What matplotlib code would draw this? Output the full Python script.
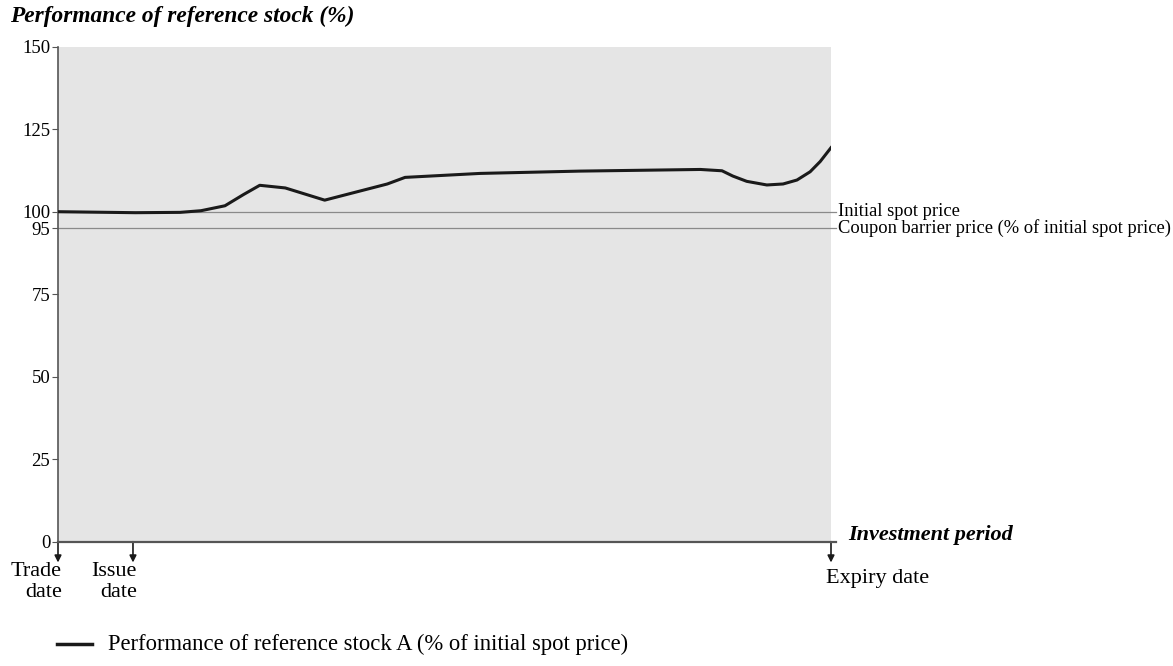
import matplotlib.pyplot as plt

# investment period on a 0-100 scale, performance in % of initial spot
period = [0, 10, 15.8, 18.5, 21.6, 24.0, 26.1, 29.4, 34.5, 42.6, 44.9, 54.6,
          67.5, 83.1, 85.9, 87.3, 89.1, 91.7, 93.8, 95.6, 97.3, 98.6, 100]
perf = [100, 99.7, 99.8, 100.3, 101.8, 105.2, 108.0, 107.2, 103.5, 108.4,
        110.4, 111.6, 112.3, 112.8, 112.4, 110.8, 109.2, 108.1, 108.4, 109.6,
        112.1, 115.2, 119.4]

initial_spot = 100
coupon_barrier = 95
yticks = [0, 25, 50, 75, 95, 100, 125, 150]

dates = [0, 9.7, 100]
date_labels = ["Trade\ndate", "Issue\ndate", "Expiry date"]

plt.rcParams['font.family'] = ['Liberation Serif', 'DejaVu Serif']

fig = plt.figure(figsize=(11.73, 6.66), dpi=100)
ax = fig.add_axes([58/1173, 1-541.7/666, 773/1173, 495/666])
ax.set_facecolor('#e5e5e5')
ax.set_xlim(0, 100)
ax.set_ylim(0, 150)

ax.plot(period, perf, color='#1a1a1a', lw=2.2, solid_joinstyle='round', zorder=3)

for lvl in [initial_spot, coupon_barrier]:
    ax.plot([0, 100.7], [lvl, lvl], color='#8a8a8a', lw=0.9, clip_on=False, zorder=2)
ax.text(100.9, initial_spot, "Initial spot price", fontsize=13.3, va='center', ha='left')
ax.text(100.9, coupon_barrier, "Coupon barrier price (% of initial spot price)",
        fontsize=13.3, va='center', ha='left')

for s in ['top', 'right', 'bottom']:
    ax.spines[s].set_visible(False)
ax.spines['left'].set_color('#555555')
ax.spines['left'].set_linewidth(1.2)
ax.plot([0, 100.7], [0, 0], color='#555555', lw=1.6, clip_on=False, zorder=4)

ax.set_yticks(yticks)
ax.set_yticklabels([str(t) for t in yticks], fontsize=13.5)
ax.tick_params(axis='y', length=4, width=0.8, color='#555555', pad=1.5)
ax.set_xticks([])

tr = ax.get_xaxis_transform()
for d, lab in zip(dates, date_labels):
    ax.annotate('', xy=(d, -0.042), xytext=(d, 0), xycoords=tr, textcoords=tr,
                arrowprops=dict(arrowstyle='-|>', color='#1a1a1a', lw=1.2,
                                mutation_scale=10, shrinkA=0, shrinkB=0))
    if lab == "Expiry date":
        ax.text(d - 0.6, -0.0834, lab, transform=tr, fontsize=16, ha='left', va='baseline')
    else:
        ax.text(d + 0.5, -0.041, lab, transform=tr, fontsize=16, ha='right', va='top',
                multialignment='right', linespacing=1.12)

fig.text(848/1173, 1-535/666, "Investment period", fontsize=16, style='italic',
         weight='bold', va='center', ha='left')
fig.text(10/1173, 1-16/666, "Performance of reference stock (%)", fontsize=16.8,
         style='italic', weight='bold', va='center', ha='left')

# legend
fig.lines.append(plt.Line2D([57/1173, 92/1173], [1-644/666, 1-644/666],
                            transform=fig.transFigure, color='#1a1a1a', lw=2.5))
fig.text(108/1173, 1-644/666, "Performance of reference stock A (% of initial spot price)",
         fontsize=16.3, va='center', ha='left')

fig.savefig('out.png', dpi=100)
